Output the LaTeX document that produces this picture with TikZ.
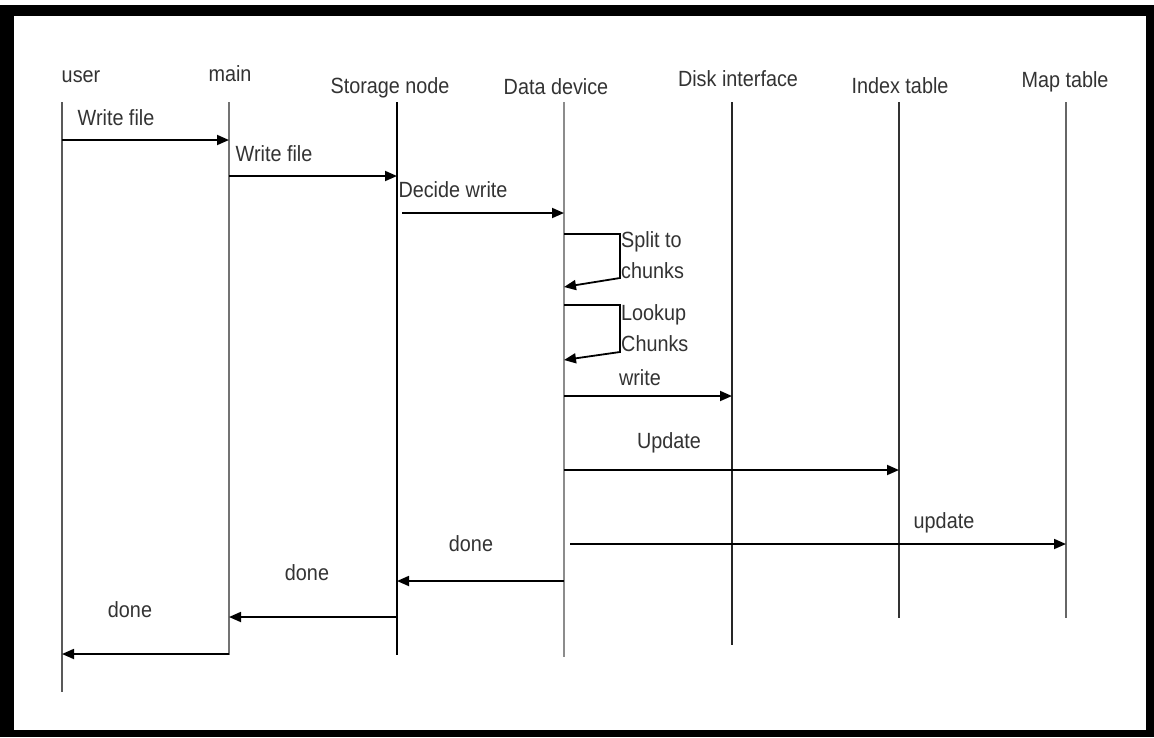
\documentclass[tikz,border=0pt]{standalone}
\usepackage{fontspec}
\setmainfont{Liberation Sans}[FakeStretch=0.9]
\usetikzlibrary{arrows.meta}

\begin{document}
\begin{tikzpicture}[
  x=1pt, y=-1pt,
  head/.style={anchor=base, inner sep=0pt, text=black!80, font=\fontsize{22}{24}\selectfont},
  lbl/.style={anchor=base, inner sep=0pt, text=black!80, font=\fontsize{22}{31}\selectfont, align=left},
  life/.style={line width=1.3pt},
  msg/.style={-{Triangle[length=12pt,width=10pt]}, line width=1.8pt}
]
% frame
\useasboundingbox (0,0) rectangle (1154,737);
\fill[white] (0,0) rectangle (1154,737);
\fill[black] (0,5) rectangle (1154,737);
\fill[white] (14,16) rectangle (1146,730);

% participants
\node[head] (user) at (81,82) {user};
\node[head] (main) at (230,81) {main};
\node[head] (storage) at (390,93) {Storage node};
\node[head] (data) at (556,94) {Data device};
\node[head] (disk) at (738,86) {Disk interface};
\node[head] (index) at (900,93) {Index table};
\node[head] (map) at (1065,87) {Map table};

% lifelines
\foreach \n/\x/\b/\c in {user/62/692/black!65, main/229/655/black!55, storage/397/655/black,
    data/564/657/black!45, disk/732/645/black!85, index/899/618/black!80, map/1066/618/black!60} {
  \coordinate (\n-t) at (\x,102);
  \coordinate (\n-b) at (\x,\b);
  \draw[life, \c] (\n-t) -- (\n-b);
}

% messages
\draw[msg] (user-t |- 0,140) -- (main-t |- 0,140);
\node[lbl] (m1) at (116,125) {Write file};
\draw[msg] (main-t |- 0,176) -- (storage-t |- 0,176);
\node[lbl] (m2) at (274,161) {Write file};
\draw[msg] (402,213) -- (data-t |- 0,213);
\node[lbl] (m3) at (453,197) {Decide write};

% self calls
\draw[msg] (data-t |- 0,234) -- (620,234) -- (620,278) -- (data-t |- 0,287);
\node[lbl, anchor=base west] (split) at (621,278) {Split to\\chunks};
\draw[msg] (data-t |- 0,305) -- (620,305) -- (620,352) -- (data-t |- 0,360);
\node[lbl, anchor=base west] (lookup) at (621,351) {Lookup\\Chunks};

\draw[msg] (data-t |- 0,396) -- (disk-t |- 0,396);
\node[lbl] (m4) at (640,385) {write};
\draw[msg] (data-t |- 0,470) -- (index-t |- 0,470);
\node[lbl] (m5) at (669,448) {Update};
\draw[msg] (570,544) -- (map-t |- 0,544);
\node[lbl] (m6) at (944,528) {update};

% replies
\draw[msg] (data-t |- 0,581) -- (storage-t |- 0,581);
\node[lbl] (r1) at (471,551) {done};
\draw[msg] (storage-t |- 0,617) -- (main-t |- 0,617);
\node[lbl] (r2) at (307,580) {done};
\draw[msg] (main-t |- 0,654) -- (user-t |- 0,654);
\node[lbl] (r3) at (130,617) {done};
\end{tikzpicture}
\end{document}
